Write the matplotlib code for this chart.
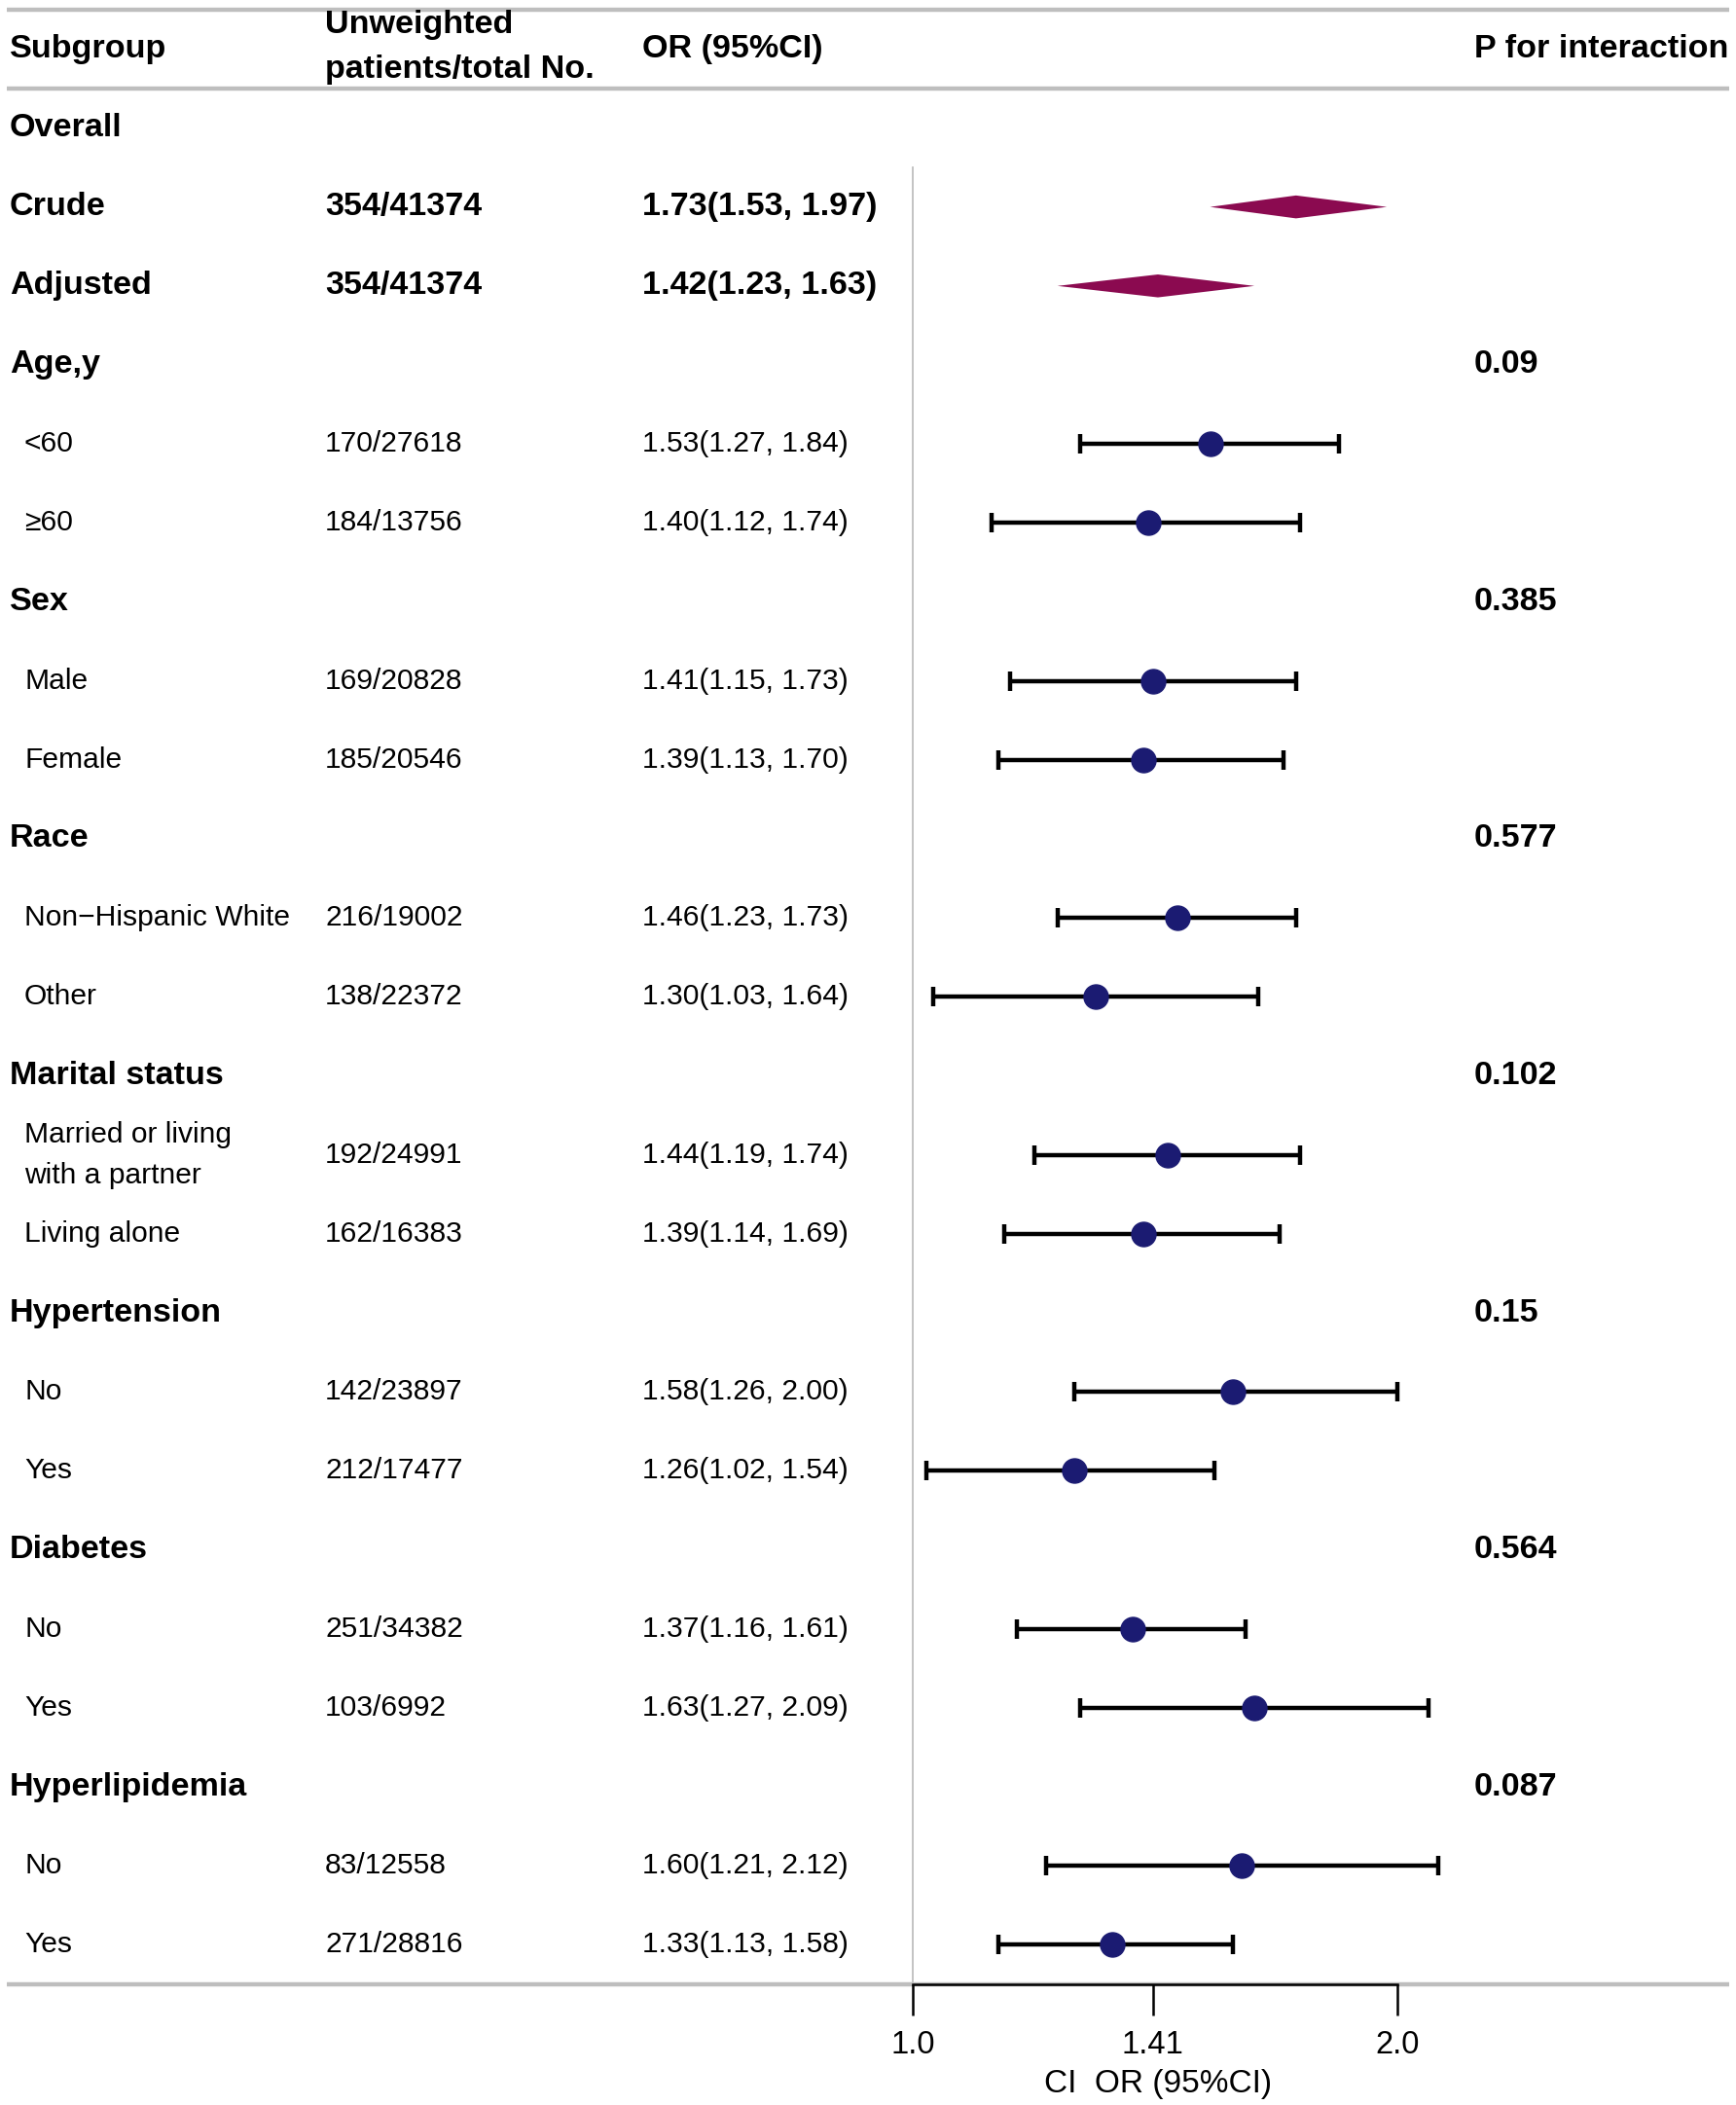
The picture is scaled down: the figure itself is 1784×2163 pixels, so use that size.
import numpy as np
import matplotlib
matplotlib.use("Agg")
import matplotlib.pyplot as plt
from matplotlib.ticker import FixedLocator, FixedFormatter, NullLocator

plt.rcParams['font.family'] = ['Liberation Sans', 'DejaVu Sans']

# ---- data ----
labels = ["Overall", "Crude", "Adjusted", "Age,y", "<60", "≥60", "Sex", "Male", "Female",
          "Race", "Non\u2212Hispanic White", "Other", "Marital status",
          "Married or living\nwith a partner", "Living alone", "Hypertension", "No", "Yes",
          "Diabetes", "No", "Yes", "Hyperlipidemia", "No", "Yes"]
is_head = [1, 1, 1, 1, 0, 0, 1, 0, 0, 1, 0, 0, 1, 0, 0, 1, 0, 0, 1, 0, 0, 1, 0, 0]
counts = ["", "354/41374", "354/41374", "", "170/27618", "184/13756", "", "169/20828", "185/20546",
          "", "216/19002", "138/22372", "", "192/24991", "162/16383", "", "142/23897", "212/17477",
          "", "251/34382", "103/6992", "", "83/12558", "271/28816"]
or_est = [np.nan, 1.73, 1.42, np.nan, 1.53, 1.40, np.nan, 1.41, 1.39, np.nan, 1.46, 1.30, np.nan,
          1.44, 1.39, np.nan, 1.58, 1.26, np.nan, 1.37, 1.63, np.nan, 1.60, 1.33]
or_lo = [np.nan, 1.53, 1.23, np.nan, 1.27, 1.12, np.nan, 1.15, 1.13, np.nan, 1.23, 1.03, np.nan,
         1.19, 1.14, np.nan, 1.26, 1.02, np.nan, 1.16, 1.27, np.nan, 1.21, 1.13]
or_hi = [np.nan, 1.97, 1.63, np.nan, 1.84, 1.74, np.nan, 1.73, 1.70, np.nan, 1.73, 1.64, np.nan,
         1.74, 1.69, np.nan, 2.00, 1.54, np.nan, 1.61, 2.09, np.nan, 2.12, 1.58]
p_int = ["", "", "", "0.09", "", "", "0.385", "", "", "0.577", "", "", "0.102", "", "",
         "0.15", "", "", "0.564", "", "", "0.087", "", ""]
summary_rows = [1, 2]

x_ticks = [1.0, 1.41, 2.0]
x_tick_labels = ["1.0", "1.41", "2.0"]

# ---- layout (pixels) ----
W, H = 1784, 2163
pitch = 81.17
top_line = 9.7
r_top = -1.5 - top_line / pitch
r_bot = -1.5 + (H - top_line) / pitch

fig = plt.figure(figsize=(W / 100, H / 100), dpi=100)
ax = fig.add_axes([0, 0, 1, 1])
ax.set_xlim(0, W)
ax.set_ylim(r_bot, r_top)
ax.axis('off')

gray = '#BEBEBE'
for r in [-1.5, -0.5, 23.5]:
    ax.plot([7, 1777], [r, r], color=gray, lw=3.2, solid_capstyle='butt', zorder=1)

fs_b, fs_r = 24.6, 21.6
x_sub, x_ind, x_cnt, x_or, x_p = 9.7, 25, 334, 660, 1515

ax.text(x_sub, -1, "Subgroup", fontsize=fs_b, fontweight='bold', va='center')
ax.text(x_cnt, -1.02, "Unweighted\npatients/total No.", fontsize=fs_b, fontweight='bold',
        va='center', linespacing=1.6)
ax.text(x_or, -1, "OR (95%CI)", fontsize=fs_b, fontweight='bold', va='center')
ax.text(x_p, -1, "P for interaction", fontsize=fs_b, fontweight='bold', va='center')

for i, lab in enumerate(labels):
    if is_head[i]:
        ax.text(x_sub, i, lab, va='center', fontsize=fs_b, fontweight='bold')
    else:
        ax.text(x_ind, i, lab, va='center', linespacing=1.65, fontsize=fs_r)
    bold_row = i in summary_rows
    kw2 = dict(fontsize=fs_b, fontweight='bold') if bold_row else dict(fontsize=fs_r)
    if counts[i]:
        ax.text(x_cnt, i, counts[i], va='center', **kw2)
    if not np.isnan(or_est[i]):
        ax.text(x_or, i, f"{or_est[i]:.2f}({or_lo[i]:.2f}, {or_hi[i]:.2f})", va='center', **kw2)
    if p_int[i]:
        ax.text(x_p, i, p_int[i], va='center', fontsize=fs_b, fontweight='bold')

# ---- forest panel ----
x1_px, x2_px = 938, 1436          # pixel position of 1.0 and 2.0
ax_l, ax_r = 880, 1500
lo = 2 ** ((ax_l - x1_px) / (x2_px - x1_px))
hi = 2 ** ((ax_r - x1_px) / (x2_px - x1_px))
y_bottom_px = top_line + 25 * pitch
fx = fig.add_axes([ax_l / W, (H - y_bottom_px) / H, (ax_r - ax_l) / W, y_bottom_px / H])
fx.set_xscale('log', base=2)
fx.set_xlim(lo, hi)
fx.set_ylim(23.5, r_top)
fx.patch.set_alpha(0)
for s in ['top', 'left', 'right']:
    fx.spines[s].set_visible(False)
fx.spines['bottom'].set_bounds(x_ticks[0], x_ticks[-1])
fx.spines['bottom'].set_linewidth(1.8)
fx.spines['bottom'].set_zorder(5)
fx.yaxis.set_major_locator(NullLocator())
fx.xaxis.set_major_locator(FixedLocator(x_ticks))
fx.xaxis.set_major_formatter(FixedFormatter(x_tick_labels))
fx.xaxis.set_minor_locator(NullLocator())
fx.tick_params(axis='x', length=23, width=1.8, pad=11, labelsize=23.5)
fx.set_xlabel("CI  OR (95%CI)", fontsize=24, labelpad=6)

fx.plot([1, 1], [0.5, 23.5], color=gray, lw=1.3, zorder=1)

rows = np.arange(len(labels))
est = np.array(or_est)
low = np.array(or_lo)
upp = np.array(or_hi)
dh = 0.145
for i in summary_rows:
    fx.fill([low[i], est[i], upp[i], est[i]], [i, i - dh, i, i + dh], color='#8B0A50',
            lw=0, zorder=3)

pt = [i for i in rows if not np.isnan(est[i]) and i not in summary_rows]
fx.errorbar(est[pt], rows[pt], xerr=[est[pt] - low[pt], upp[pt] - est[pt]], fmt='none',
            ecolor='black', elinewidth=3.2, capsize=7.5, capthick=3.2, zorder=3)
fx.plot(est[pt], rows[pt], 'o', color='#1B1B72', markersize=18, zorder=4)

fig.savefig("out.png", dpi=100)
